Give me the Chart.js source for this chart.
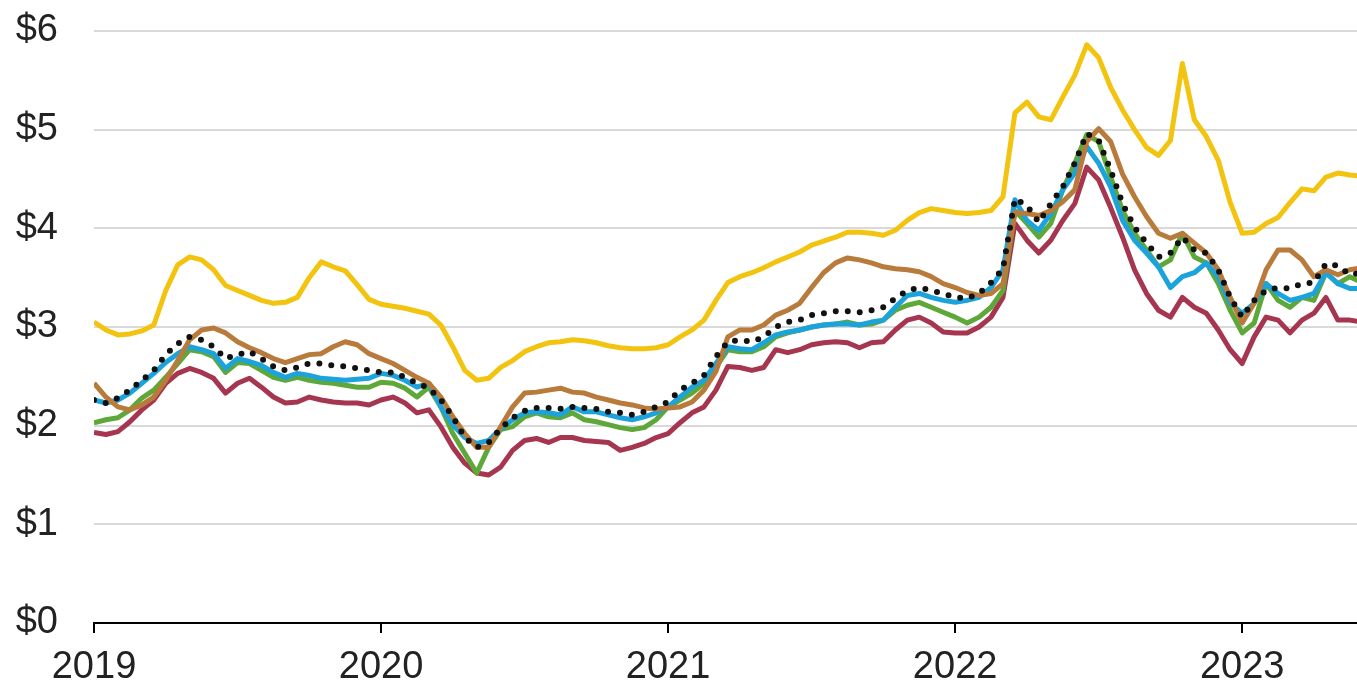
<!DOCTYPE html>
<html lang="en">
<head>
  <meta charset="UTF-8" />
  <title>Gasoline prices by region</title>
  <style>
    html, body {
      margin: 0;
      padding: 0;
      background: #ffffff;
    }

    .wrap {
      width: 1357px;
      height: 690px;
      position: relative;
    }
  </style>
</head>
<body>
  <div class="wrap">
    <canvas id="myChart"></canvas>
  </div>
  <script src="https://cdn.jsdelivr.net/npm/chart.js@4.4.0/dist/chart.umd.min.js"></script>
  <script>
    // half-monthly readings, first one at 1 Jan 2019
    const startYear = 2019;
    const perYear = 24;
    const yearTicks = [2019, 2020, 2021, 2022, 2023];
    const priceTicks = [0, 1, 2, 3, 4, 5, 6];

    const usAverage = [
      2.26, 2.23, 2.28, 2.36, 2.46, 2.56, 2.72, 2.83, 2.90, 2.87, 2.80, 2.68, 2.72, 2.75, 2.68, 2.60,
      2.56, 2.59, 2.63, 2.63, 2.61, 2.60, 2.58, 2.56, 2.54, 2.54, 2.49, 2.43, 2.38, 2.26, 2.09, 1.88,
      1.78, 1.83, 1.97, 2.08, 2.15, 2.18, 2.18, 2.17, 2.19, 2.18, 2.17, 2.14, 2.13, 2.11, 2.14, 2.19,
      2.24, 2.36, 2.43, 2.51, 2.70, 2.85, 2.87, 2.85, 2.90, 3.00, 3.05, 3.07, 3.12, 3.14, 3.16, 3.16,
      3.15, 3.17, 3.20, 3.29, 3.37, 3.40, 3.37, 3.34, 3.30, 3.29, 3.34, 3.45, 3.59, 4.30, 4.23, 4.06,
      4.25, 4.42, 4.66, 4.96, 4.89, 4.59, 4.25, 4.01, 3.85, 3.71, 3.75, 3.91, 3.78, 3.75, 3.58, 3.30,
      3.10, 3.27, 3.37, 3.40, 3.39, 3.44, 3.45, 3.64, 3.62, 3.53, 3.55
    ];

    const westCoast = [
      3.05, 2.97, 2.92, 2.93, 2.96, 3.02, 3.37, 3.63, 3.71, 3.68, 3.58, 3.42, 3.37, 3.32, 3.27, 3.24,
      3.25, 3.30, 3.50, 3.66, 3.61, 3.57, 3.43, 3.28, 3.23, 3.21, 3.19, 3.16, 3.13, 3.02, 2.80, 2.56,
      2.46, 2.48, 2.59, 2.66, 2.75, 2.80, 2.84, 2.85, 2.87, 2.86, 2.84, 2.81, 2.79, 2.78, 2.78, 2.79,
      2.82, 2.90, 2.97, 3.07, 3.27, 3.45, 3.51, 3.55, 3.60, 3.66, 3.71, 3.76, 3.83, 3.87, 3.91, 3.96,
      3.96, 3.95, 3.93, 3.98, 4.08, 4.16, 4.20, 4.18, 4.16, 4.15, 4.16, 4.18, 4.32, 5.17, 5.28, 5.13,
      5.10, 5.33, 5.55, 5.86, 5.73, 5.43, 5.20, 5.00, 4.82, 4.74, 4.89, 5.67, 5.10, 4.93, 4.69, 4.26,
      3.95, 3.96, 4.05, 4.11, 4.26, 4.40, 4.38, 4.52, 4.56, 4.54, 4.53
    ];

    const rockyMountain = [
      2.43, 2.29, 2.19, 2.16, 2.21, 2.29, 2.46, 2.66, 2.87, 2.97, 2.99, 2.94, 2.85, 2.79, 2.74, 2.68,
      2.64, 2.68, 2.72, 2.73, 2.80, 2.85, 2.82, 2.73, 2.68, 2.63, 2.56, 2.49, 2.43, 2.29, 2.09, 1.92,
      1.78, 1.78, 1.99, 2.19, 2.33, 2.34, 2.36, 2.38, 2.34, 2.33, 2.29, 2.26, 2.23, 2.21, 2.18, 2.17,
      2.18, 2.19, 2.24, 2.36, 2.55, 2.90, 2.97, 2.97, 3.02, 3.12, 3.17, 3.24, 3.40, 3.55, 3.65, 3.70,
      3.68, 3.65, 3.61, 3.59, 3.58, 3.56, 3.51, 3.44, 3.40, 3.35, 3.32, 3.34, 3.44, 4.16, 4.15, 4.13,
      4.18, 4.27, 4.39, 4.88, 5.01, 4.88, 4.55, 4.32, 4.12, 3.95, 3.90, 3.95, 3.85, 3.75, 3.58, 3.30,
      3.04, 3.24, 3.58, 3.78, 3.78, 3.68, 3.51, 3.58, 3.53, 3.58, 3.60
    ];

    const eastCoast = [
      2.26, 2.23, 2.26, 2.33, 2.43, 2.53, 2.64, 2.73, 2.80, 2.77, 2.73, 2.58, 2.68, 2.65, 2.61, 2.54,
      2.49, 2.53, 2.51, 2.48, 2.47, 2.46, 2.47, 2.48, 2.53, 2.51, 2.46, 2.39, 2.43, 2.19, 2.01, 1.88,
      1.82, 1.85, 1.97, 2.06, 2.13, 2.14, 2.13, 2.11, 2.19, 2.14, 2.14, 2.11, 2.08, 2.06, 2.09, 2.13,
      2.19, 2.29, 2.39, 2.46, 2.63, 2.80, 2.78, 2.77, 2.84, 2.92, 2.95, 2.97, 3.00, 3.02, 3.03, 3.03,
      3.02, 3.05, 3.07, 3.20, 3.32, 3.34, 3.30, 3.27, 3.25, 3.27, 3.30, 3.40, 3.58, 4.29, 4.08, 3.98,
      4.15, 4.39, 4.56, 4.83, 4.66, 4.42, 4.08, 3.88, 3.75, 3.61, 3.40, 3.51, 3.55, 3.65, 3.51, 3.24,
      3.14, 3.24, 3.44, 3.34, 3.27, 3.30, 3.34, 3.55, 3.44, 3.39, 3.39
    ];

    const midwest = [
      2.03, 2.06, 2.08, 2.16, 2.28, 2.36, 2.49, 2.63, 2.77, 2.75, 2.70, 2.54, 2.64, 2.63, 2.56, 2.49,
      2.46, 2.49, 2.46, 2.44, 2.43, 2.41, 2.39, 2.39, 2.44, 2.43, 2.38, 2.29, 2.39, 2.19, 1.92, 1.72,
      1.52, 1.78, 1.96, 1.99, 2.09, 2.13, 2.09, 2.08, 2.13, 2.06, 2.04, 2.01, 1.98, 1.96, 1.98, 2.06,
      2.19, 2.26, 2.33, 2.43, 2.59, 2.77, 2.75, 2.75, 2.80, 2.90, 2.94, 2.97, 3.00, 3.02, 3.03, 3.05,
      3.02, 3.03, 3.07, 3.17, 3.22, 3.25, 3.20, 3.15, 3.10, 3.04, 3.10, 3.20, 3.37, 4.18, 4.05, 3.91,
      4.05, 4.39, 4.66, 4.95, 4.88, 4.52, 4.18, 3.95, 3.78, 3.61, 3.68, 3.95, 3.71, 3.65, 3.44, 3.17,
      2.94, 3.04, 3.44, 3.27, 3.20, 3.30, 3.27, 3.55, 3.44, 3.51, 3.45
    ];

    const gulfCoast = [
      1.93, 1.91, 1.94, 2.04, 2.16, 2.26, 2.43, 2.53, 2.58, 2.54, 2.48, 2.33, 2.43, 2.48, 2.39, 2.29,
      2.23, 2.24, 2.29, 2.26, 2.24, 2.23, 2.23, 2.21, 2.26, 2.29, 2.23, 2.13, 2.16, 1.99, 1.78, 1.62,
      1.52, 1.50, 1.58, 1.75, 1.85, 1.87, 1.83, 1.88, 1.88, 1.85, 1.84, 1.83, 1.75, 1.78, 1.82, 1.88,
      1.92, 2.03, 2.13, 2.19, 2.36, 2.60, 2.59, 2.56, 2.59, 2.77, 2.74, 2.77, 2.82, 2.84, 2.85, 2.84,
      2.79, 2.84, 2.85, 2.97, 3.07, 3.10, 3.04, 2.95, 2.94, 2.94, 3.00, 3.10, 3.30, 4.05, 3.88, 3.75,
      3.88, 4.08, 4.25, 4.62, 4.49, 4.21, 3.91, 3.58, 3.34, 3.17, 3.10, 3.30, 3.20, 3.14, 2.97, 2.77,
      2.63, 2.90, 3.10, 3.07, 2.94, 3.07, 3.14, 3.30, 3.07, 3.07, 3.05
    ];

    function toPoints(values) {
      return values.map((v, i) => ({ x: startYear + i / perYear, y: v }));
    }

    function line(label, values, color, extra) {
      return Object.assign({
        label: label,
        data: toPoints(values),
        borderColor: color,
        borderWidth: 5,
        borderJoinStyle: "round",
        pointRadius: 0,
        fill: false,
        tension: 0
      }, extra || {});
    }

    const font = { family: "'Liberation Sans', Arial, sans-serif", size: 38 };

    var ctx = document.getElementById("myChart").getContext("2d");
    var myChart = new Chart(ctx, {
      type: "line",
      data: {
        datasets: [
          line("U.S. average", usAverage, "#111111", { borderWidth: 6, borderDash: [0, 12], borderCapStyle: "round" }),
          line("West Coast", westCoast, "#F2C30F"),
          line("Rocky Mountain", rockyMountain, "#B87B3B"),
          line("East Coast", eastCoast, "#1DA3DB"),
          line("Midwest", midwest, "#5EA83A"),
          line("Gulf Coast", gulfCoast, "#A63650")
        ]
      },
      options: {
        responsive: true,
        maintainAspectRatio: false,
        animation: false,
        layout: { padding: { top: 31, right: 0, bottom: 0, left: 0 } },
        plugins: {
          legend: { display: false },
          tooltip: { enabled: false }
        },
        scales: {
          x: {
            type: "linear",
            min: 2019,
            max: 2023.4,
            afterBuildTicks: (scale) => {
              scale.ticks = yearTicks.map(v => ({ value: v }));
            },
            afterFit: (scale) => { scale.height = 67; },
            grid: {
              drawOnChartArea: false,
              drawTicks: true,
              tickLength: 10,
              color: "#000000",
              lineWidth: 2
            },
            border: { display: true, color: "#000000", width: 2 },
            ticks: {
              padding: 12,
              maxRotation: 0,
              color: "#222222",
              font: font,
              callback: (v) => String(v)
            }
          },
          y: {
            min: 0,
            max: 6,
            afterBuildTicks: (scale) => {
              scale.ticks = priceTicks.map(v => ({ value: v }));
            },
            afterFit: (scale) => {
              scale.width = 94;
              // tick padding is for the label gap only, not for room above the plot
              scale.paddingTop = 0;
              scale.paddingBottom = 0;
            },
            grid: {
              drawTicks: false,
              color: "#d9d9d9",
              lineWidth: 2
            },
            border: { display: false },
            ticks: {
              padding: 36,
              color: "#222222",
              font: font,
              callback: (v) => "$" + v
            }
          }
        }
      }
    });
  </script>
</body>
</html>
